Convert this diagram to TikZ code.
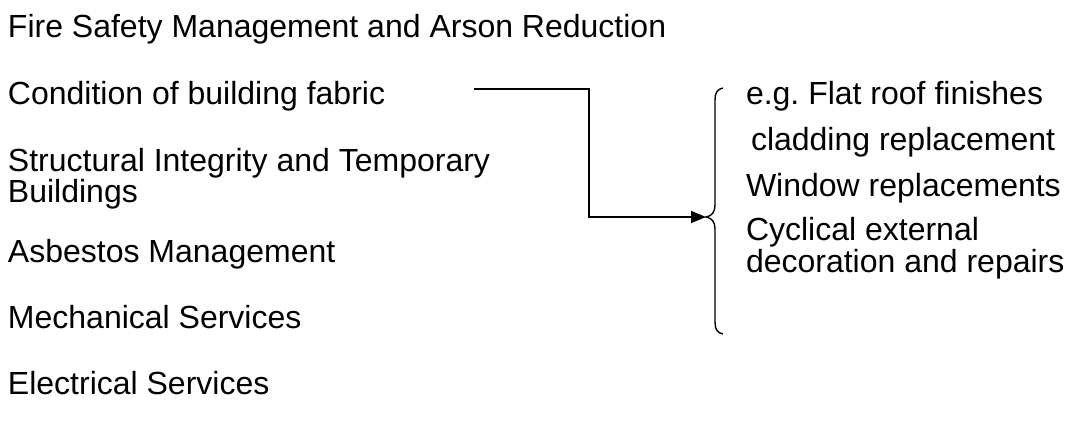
\documentclass[tikz,border=0pt]{standalone}
\usepackage{fontspec}
\setmainfont{Liberation Sans}
\usetikzlibrary{arrows.meta}
\begin{document}
\frenchspacing
\begin{tikzpicture}[x=1pt,y=-1pt,
  item/.style={anchor=base west,inner sep=0pt,outer sep=0pt,
    font=\fontsize{32pt}{36.6pt}\selectfont},
  link/.style={line width=1.5pt,-{Triangle[length=15pt,width=12pt]}},
  bracket/.style={line width=1.4pt}]
\useasboundingbox (0,0) rectangle (1081,421);
% left column: topics
\node[item] (fire)   at (8,37)  {Fire Safety Management and Arson Reduction};
\node[item] (cond)   at (8,104) {Condition of building fabric};
\node[item] (struct) at (8,171) {Structural Integrity and Temporary};
\node[item] (bldg)   at (8,202) {Buildings};
\node[item] (asb)    at (8,262) {Asbestos Management};
\node[item] (mech)   at (8,328) {Mechanical Services};
\node[item] (elec)   at (8,394) {Electrical Services};
% right column: examples
\node[item] (flat)   at (746,104) {e.g. Flat roof finishes};
\node[item] (clad)   at (751,150) {cladding replacement};
\node[item] (win)    at (746,196) {Window replacements};
\node[item] (cyc)    at (746,240) {Cyclical external};
\node[item] (deco)   at (746,272) {decoration and repairs};
% curly bracket grouping the examples
\coordinate (bracetip) at (706,217);
\draw[bracket] (723,88) .. controls (717,89) and (715,93) .. (715,100)
  -- (715,205) .. controls (715,212) and (712,216) .. (bracetip)
  .. controls (712,218) and (715,222) .. (715,229)
  -- (715,322) .. controls (715,329) and (717,333) .. (723,334);
% elbow connector from the building-fabric item to the bracket
\coordinate (start) at (474,89);
\coordinate (bend) at (589,89);
\draw[link] (start) -- (bend) |- (bracetip);
\end{tikzpicture}
\end{document}
